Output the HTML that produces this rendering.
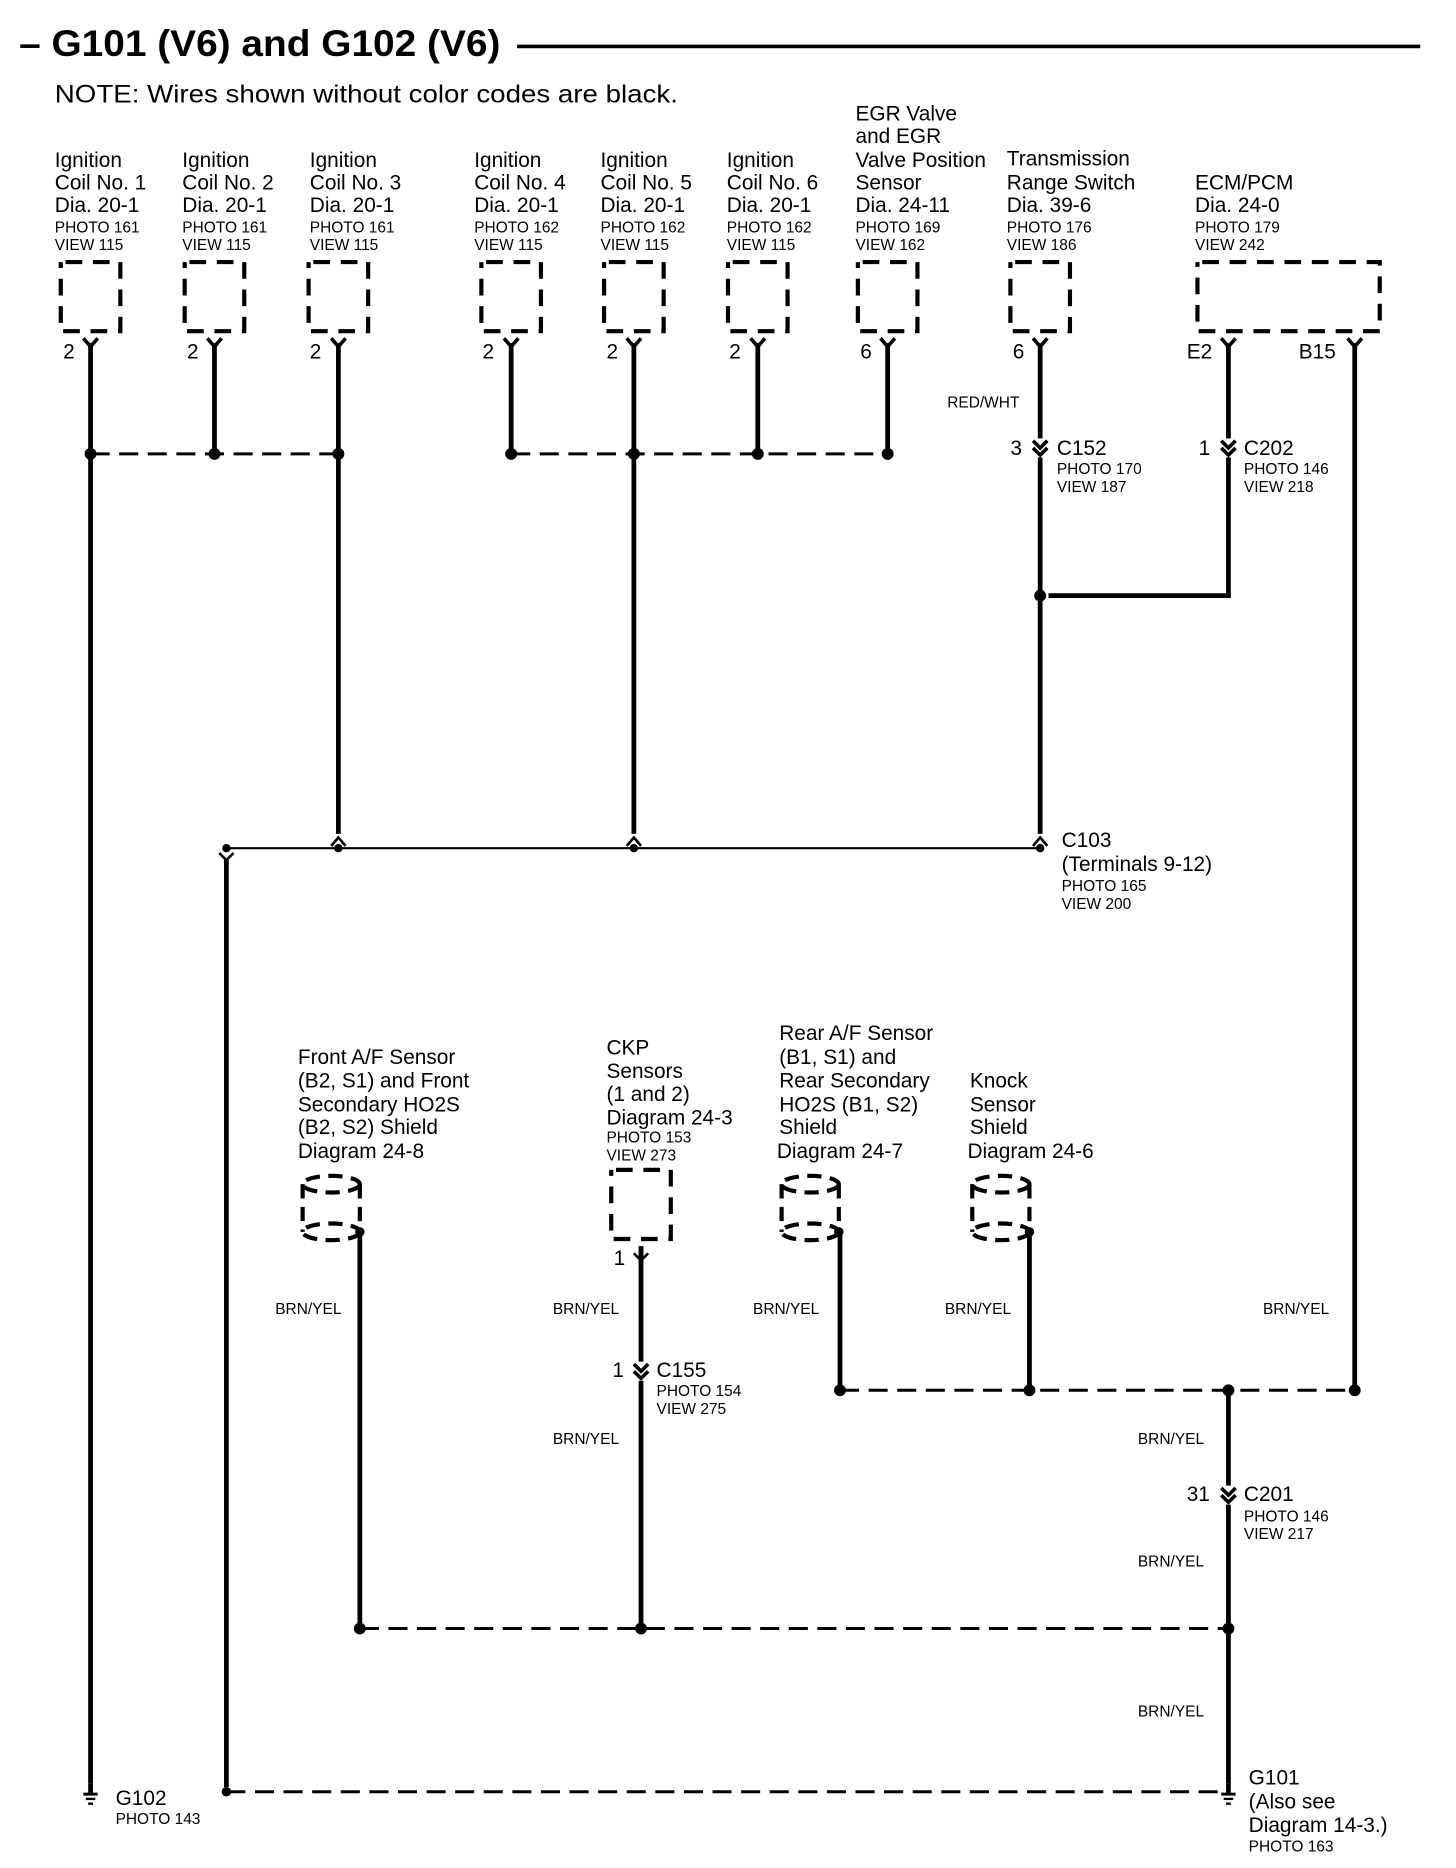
<!DOCTYPE html>
<html><head><meta charset="utf-8"><style>html,body{margin:0;padding:0;background:#fff}svg{display:block}text{font-family:"Liberation Sans",Arial,sans-serif;fill:#000}.m{font-size:17.5px}.s{font-size:13px}.b{font-size:13px}</style></head><body>
<svg width="1456" height="1868" viewBox="0 0 1222 1568" preserveAspectRatio="none" xmlns="http://www.w3.org/2000/svg">
<defs>
<g id="box"><path d="M0,0 h50 v58 h-50 z" fill="none" stroke="#000" stroke-width="3.5" stroke-dasharray="14,9" stroke-dashoffset="-4"/></g>
<g id="pin"><path d="M-6,-4 L0,3 L6,-4" fill="none" stroke="#000" stroke-width="3"/></g>
<g id="fem"><path d="M-6,-6 L0,0 L6,-6 M-6,0 L0,6 L6,0" fill="none" stroke="#000" stroke-width="3"/></g>
<g id="cyl" fill="none" stroke="#000" stroke-width="3.5" stroke-dasharray="12,7"><ellipse cx="25" cy="8" rx="24" ry="7"/><ellipse cx="25" cy="48" rx="24" ry="7"/><line x1="1" y1="8" x2="1" y2="48"/><line x1="49" y1="8" x2="49" y2="48"/></g>
<g id="gnd"><line x1="0" y1="-8" x2="0" y2="0" stroke="#000" stroke-width="4"/><line x1="-6" y1="1" x2="6" y2="1" stroke="#000" stroke-width="2.5"/><line x1="-4" y1="5" x2="4" y2="5" stroke="#000" stroke-width="2"/><line x1="-2" y1="9" x2="2" y2="9" stroke="#000" stroke-width="2"/></g>
</defs>
<text x="16" y="47" font-size="31" font-weight="bold" textLength="404" lengthAdjust="spacingAndGlyphs">– G101 (V6) and G102 (V6)</text>
<line x1="434" y1="39" x2="1192" y2="39" stroke="#000" stroke-width="3"/>
<text x="46" y="86" font-size="21" textLength="523" lengthAdjust="spacingAndGlyphs">NOTE: Wires shown without color codes are black.</text>
<g class="m">
<text x="46" y="140">Ignition</text><text x="46" y="159">Coil No. 1</text><text x="46" y="178">Dia. 20-1</text>
<text x="153" y="140">Ignition</text><text x="153" y="159">Coil No. 2</text><text x="153" y="178">Dia. 20-1</text>
<text x="260" y="140">Ignition</text><text x="260" y="159">Coil No. 3</text><text x="260" y="178">Dia. 20-1</text>
<text x="398" y="140">Ignition</text><text x="398" y="159">Coil No. 4</text><text x="398" y="178">Dia. 20-1</text>
<text x="504" y="140">Ignition</text><text x="504" y="159">Coil No. 5</text><text x="504" y="178">Dia. 20-1</text>
<text x="610" y="140">Ignition</text><text x="610" y="159">Coil No. 6</text><text x="610" y="178">Dia. 20-1</text>
<text x="718" y="101">EGR Valve</text><text x="718" y="120">and EGR</text><text x="718" y="140">Valve Position</text><text x="718" y="159">Sensor</text><text x="718" y="178">Dia. 24-11</text>
<text x="845" y="139">Transmission</text><text x="845" y="159">Range Switch</text><text x="845" y="178">Dia. 39-6</text>
<text x="1003" y="159">ECM/PCM</text><text x="1003" y="178">Dia. 24-0</text>
</g>
<g class="s">
<text x="46" y="195">PHOTO 161</text><text x="46" y="210">VIEW 115</text>
<text x="153" y="195">PHOTO 161</text><text x="153" y="210">VIEW 115</text>
<text x="260" y="195">PHOTO 161</text><text x="260" y="210">VIEW 115</text>
<text x="398" y="195">PHOTO 162</text><text x="398" y="210">VIEW 115</text>
<text x="504" y="195">PHOTO 162</text><text x="504" y="210">VIEW 115</text>
<text x="610" y="195">PHOTO 162</text><text x="610" y="210">VIEW 115</text>
<text x="718" y="195">PHOTO 169</text><text x="718" y="210">VIEW 162</text>
<text x="845" y="195">PHOTO 176</text><text x="845" y="210">VIEW 186</text>
<text x="1003" y="195">PHOTO 179</text><text x="1003" y="210">VIEW 242</text>
</g>
<use href="#box" x="51" y="220"/><use href="#box" x="155" y="220"/><use href="#box" x="259" y="220"/>
<use href="#box" x="404" y="220"/><use href="#box" x="507" y="220"/><use href="#box" x="611" y="220"/>
<use href="#box" x="720" y="220"/><use href="#box" x="848" y="220"/>
<path d="M1005,220 h153 v58 h-153 z" fill="none" stroke="#000" stroke-width="3.5" stroke-dasharray="14,9" stroke-dashoffset="-4"/>
<g class="m">
<text x="53" y="301">2</text><text x="157" y="301">2</text><text x="260" y="301">2</text>
<text x="405" y="301">2</text><text x="509" y="301">2</text><text x="612" y="301">2</text>
<text x="722" y="301">6</text><text x="850" y="301">6</text><text x="996" y="301">E2</text><text x="1090" y="301">B15</text>
</g>
<g>
<use href="#pin" x="76" y="288"/><use href="#pin" x="180" y="288"/><use href="#pin" x="284" y="288"/>
<use href="#pin" x="429" y="288"/><use href="#pin" x="532" y="288"/><use href="#pin" x="636" y="288"/>
<use href="#pin" x="745" y="288"/><use href="#pin" x="873" y="288"/><use href="#pin" x="1031" y="288"/><use href="#pin" x="1137" y="288"/>
</g>
<g stroke="#000" stroke-width="4" fill="none">
<line x1="76" y1="288" x2="76" y2="1497"/>
<line x1="180" y1="288" x2="180" y2="381"/>
<line x1="284" y1="288" x2="284" y2="700"/>
<line x1="429" y1="288" x2="429" y2="381"/>
<line x1="532" y1="288" x2="532" y2="700"/>
<line x1="636" y1="288" x2="636" y2="381"/>
<line x1="745" y1="288" x2="745" y2="381"/>
<line x1="873" y1="288" x2="873" y2="700"/>
<polyline points="1031,288 1031,500 880,500"/>
<line x1="1137" y1="288" x2="1137" y2="1167"/>
<line x1="190" y1="722" x2="190" y2="1500"/>
<line x1="302" y1="1036" x2="302" y2="1367"/>
<line x1="538" y1="1050" x2="538" y2="1367"/>
<line x1="705" y1="1036" x2="705" y2="1167"/>
<line x1="864" y1="1036" x2="864" y2="1167"/>
<line x1="1031" y1="1167" x2="1031" y2="1497"/>
</g>
<g stroke="#000" stroke-width="2.5" stroke-dasharray="16,8" fill="none">
<line x1="76" y1="381" x2="284" y2="381"/>
<line x1="429" y1="381" x2="745" y2="381"/>
<line x1="705" y1="1167" x2="1137" y2="1167"/>
<line x1="302" y1="1367" x2="1031" y2="1367"/>
<line x1="190" y1="1504" x2="1031" y2="1504"/>
</g>
<g fill="#000">
<circle cx="76" cy="381" r="5"/><circle cx="180" cy="381" r="5"/><circle cx="284" cy="381" r="5"/>
<circle cx="429" cy="381" r="5"/><circle cx="532" cy="381" r="5"/><circle cx="636" cy="381" r="5"/><circle cx="745" cy="381" r="5"/>
<circle cx="873" cy="500" r="5"/>
<circle cx="705" cy="1167" r="5"/><circle cx="864" cy="1167" r="5"/><circle cx="1031" cy="1167" r="5"/><circle cx="1137" cy="1167" r="5"/>
<circle cx="302" cy="1367" r="5"/><circle cx="538" cy="1367" r="5"/><circle cx="1031" cy="1367" r="5"/>
<circle cx="190" cy="1504" r="4"/>
<circle cx="190" cy="712" r="3.5"/><circle cx="284" cy="712" r="3.5"/><circle cx="532" cy="712" r="3.5"/><circle cx="873" cy="712" r="3.5"/>
</g>
<line x1="190" y1="712" x2="873" y2="712" stroke="#000" stroke-width="1.8"/>
<g fill="none" stroke="#000" stroke-width="2.2">
<path d="M278,710 L284,703 L290,710"/><path d="M526,710 L532,703 L538,710"/><path d="M867,710 L873,703 L879,710"/>
<path d="M184,716 L190,722 L196,716"/>
<path d="M532,1052 L538,1058 L544,1052"/>
</g>
<line x1="538" y1="1046" x2="538" y2="1060" stroke="#000" stroke-width="4"/>
<rect x="866" y="368" width="14" height="16" fill="#fff"/>
<use href="#fem" x="873" y="376"/>
<rect x="1024" y="368" width="14" height="16" fill="#fff"/>
<use href="#fem" x="1031" y="376"/>
<rect x="531" y="1143" width="14" height="16" fill="#fff"/>
<use href="#fem" x="538" y="1151"/>
<rect x="1024" y="1247" width="14" height="16" fill="#fff"/>
<use href="#fem" x="1031" y="1255"/>
<text x="795" y="342" class="b">RED/WHT</text>
<g class="m">
<text x="848" y="382">3</text><text x="887" y="382">C152</text>
<text x="1006" y="382">1</text><text x="1044" y="382">C202</text>
<text x="891" y="711">C103</text><text x="891" y="731">(Terminals 9-12)</text>
<text x="514" y="1156">1</text><text x="551" y="1156">C155</text>
<text x="996" y="1260">31</text><text x="1044" y="1260">C201</text>
<text x="97" y="1515">G102</text>
<text x="1048" y="1498">G101</text><text x="1048" y="1518">(Also see</text><text x="1048" y="1538">Diagram 14-3.)</text>
<text x="515" y="1062">1</text>
</g>
<g class="s">
<text x="887" y="398">PHOTO 170</text><text x="887" y="413">VIEW 187</text>
<text x="1044" y="398">PHOTO 146</text><text x="1044" y="413">VIEW 218</text>
<text x="891" y="748">PHOTO 165</text><text x="891" y="763">VIEW 200</text>
<text x="551" y="1172">PHOTO 154</text><text x="551" y="1187">VIEW 275</text>
<text x="1044" y="1277">PHOTO 146</text><text x="1044" y="1292">VIEW 217</text>
<text x="97" y="1531">PHOTO 143</text><text x="1048" y="1554">PHOTO 163</text>
<text x="509" y="959">PHOTO 153</text><text x="509" y="974">VIEW 273</text>
<text x="231" y="1103">BRN/YEL</text><text x="464" y="1103">BRN/YEL</text><text x="632" y="1103">BRN/YEL</text><text x="793" y="1103">BRN/YEL</text><text x="1060" y="1103">BRN/YEL</text>
<text x="464" y="1212">BRN/YEL</text><text x="955" y="1212">BRN/YEL</text><text x="955" y="1315">BRN/YEL</text><text x="955" y="1441">BRN/YEL</text>
</g>
<g class="m">
<text x="250" y="893">Front A/F Sensor</text><text x="250" y="913">(B2, S1) and Front</text><text x="250" y="933">Secondary HO2S</text><text x="250" y="952">(B2, S2) Shield</text><text x="250" y="972">Diagram  24-8</text>
<text x="509" y="885">CKP</text><text x="509" y="905">Sensors</text><text x="509" y="924">(1 and 2)</text><text x="509" y="944">Diagram  24-3</text>
<text x="654" y="873">Rear A/F Sensor</text><text x="654" y="893">(B1, S1) and</text><text x="654" y="913">Rear Secondary</text><text x="654" y="933">HO2S (B1, S2)</text><text x="654" y="952">Shield</text><text x="652" y="972">Diagram  24-7</text>
<text x="814" y="913">Knock</text><text x="814" y="933">Sensor</text><text x="814" y="952">Shield</text><text x="812" y="972">Diagram  24-6</text>
</g>
<use href="#cyl" x="253" y="986"/><use href="#cyl" x="655" y="986"/><use href="#cyl" x="815" y="986"/>
<circle cx="302" cy="1034" r="4" fill="#000"/><circle cx="704" cy="1034" r="4" fill="#000"/><circle cx="864" cy="1034" r="4" fill="#000"/>
<use href="#box" x="513" y="982"/>
<use href="#gnd" x="76" y="1505"/><use href="#gnd" x="1031" y="1505"/>
</svg>
</body></html>
